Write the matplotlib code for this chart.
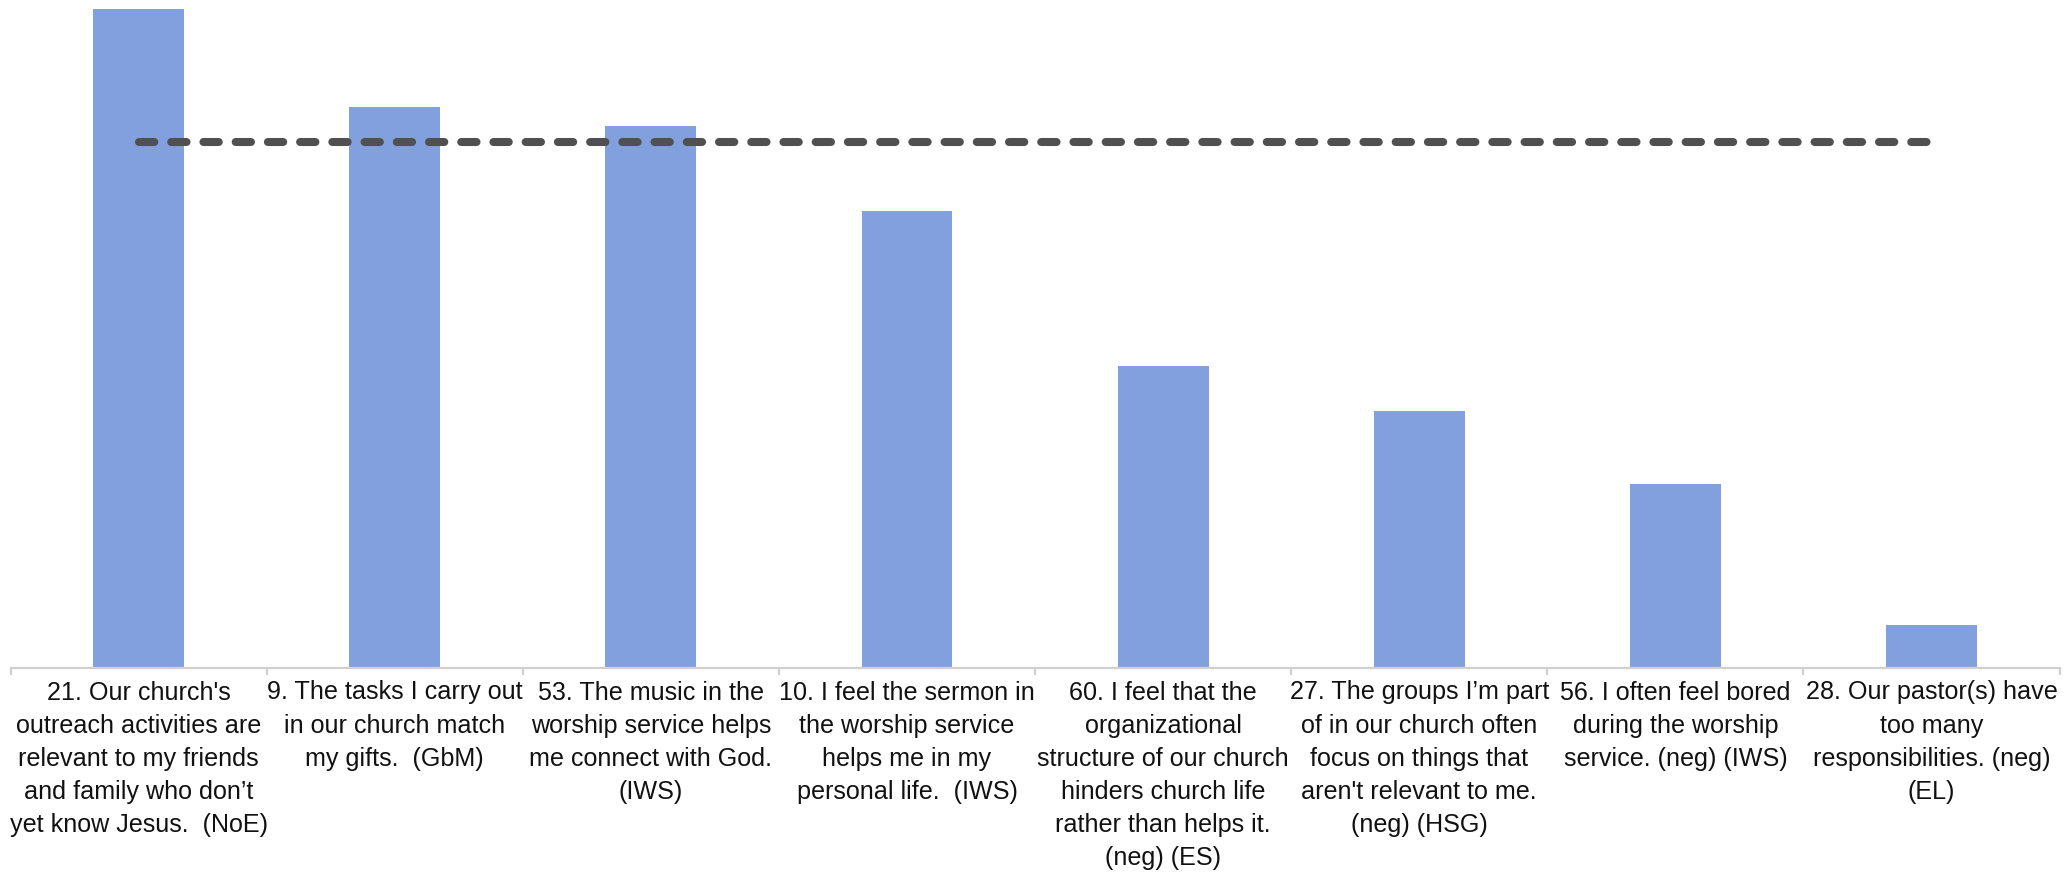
import matplotlib
matplotlib.use("Agg")
import matplotlib.pyplot as plt
from matplotlib import font_manager

categories = [
    "21. Our church's\noutreach activities are\nrelevant to my friends\nand family who don\u2019t\nyet know Jesus.  (NoE)",
    "9. The tasks I carry out\nin our church match\nmy gifts.  (GbM)",
    "53. The music in the\nworship service helps\nme connect with God.\n(IWS)",
    "10. I feel the sermon in\nthe worship service\nhelps me in my\npersonal life.  (IWS)",
    "60. I feel that the\norganizational\nstructure of our church\nhinders church life\nrather than helps it.\n(neg) (ES)",
    "27. The groups I\u2019m part\nof in our church often\nfocus on things that\naren't relevant to me.\n(neg) (HSG)",
    "56. I often feel bored\nduring the worship\nservice. (neg) (IWS)",
    "28. Our pastor(s) have\ntoo many\nresponsibilities. (neg)\n(EL)",
]
scores = [98.7, 84.0, 81.1, 68.4, 45.2, 38.4, 27.5, 6.4]
benchmark = [78.7, 78.7, 78.7, 78.7, 78.7, 78.7, 78.7, 78.7]

avail = {f.name for f in font_manager.fontManager.ttflist}
fam = "Liberation Sans Narrow" if "Liberation Sans Narrow" in avail else "Liberation Sans"

W, H = 2066, 874
fig = plt.figure(figsize=(W / 100, H / 100), dpi=100)
left, right = 10.6 / W, 2059.6 / W
bottom = (H - 668) / H
ax = fig.add_axes([left, bottom, right - left, 1 - bottom])

x = list(range(len(categories)))
ax.bar(x, scores, width=0.355, color="#829FDE", zorder=2)
ax.plot(x, benchmark, color="#505050", linewidth=5.8, linestyle=(0, (1.9, 2.1)),
        dash_capstyle="round", solid_capstyle="round", zorder=3)

ax.set_xlim(-0.5, len(categories) - 0.5)
ax.set_ylim(0, 100)
for s in ["top", "right", "left"]:
    ax.spines[s].set_visible(False)
ax.spines["bottom"].set_color("#D0D0D0")
ax.spines["bottom"].set_linewidth(1.6)
ax.set_yticks([])

ax.set_xticks(x)
ax.set_xticklabels(categories, fontsize=18.1, family=fam, color="#111111",
                   linespacing=1.48)
ax.tick_params(axis="x", which="major", length=0, pad=9)
ax.set_xticks([i - 0.5 for i in range(len(categories) + 1)], minor=True)
ax.tick_params(axis="x", which="minor", length=5, width=1.6, color="#D0D0D0")

fig.savefig("out.png", dpi=100, facecolor="white")
